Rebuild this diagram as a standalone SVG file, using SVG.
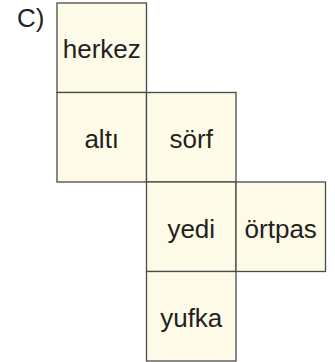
<svg xmlns="http://www.w3.org/2000/svg" width="335" height="362" viewBox="0 0 335 362">
<style>
.cell{fill:#fefae8;stroke:#4a4a4a;stroke-width:1.3}
.t{font-family:"Liberation Sans",Arial,sans-serif;font-size:26px;fill:#231f20;text-anchor:middle}
</style>
<rect width="335" height="362" fill="#ffffff"/>
<text x="17" y="27" class="t" style="text-anchor:start">C)</text>
<g id="herkez"><rect class="cell" x="57" y="3" width="89.5" height="89.5"/><text class="t" x="101.75" y="58.3">herkez</text></g>
<g id="alti"><rect class="cell" x="57" y="92.5" width="89.5" height="89.5"/><text class="t" x="101.75" y="148">altı</text></g>
<g id="sorf"><rect class="cell" x="146.5" y="92.5" width="89.5" height="89.5"/><text class="t" x="191.25" y="148">sörf</text></g>
<g id="yedi"><rect class="cell" x="146.5" y="182" width="89.5" height="89.5"/><text class="t" x="191.25" y="237.5">yedi</text></g>
<g id="ortpas"><rect class="cell" x="236" y="182" width="89.5" height="89.5"/><text class="t" x="280.75" y="237.5">örtpas</text></g>
<g id="yufka"><rect class="cell" x="146.5" y="271.5" width="89.5" height="89.5"/><text class="t" x="191.25" y="327">yufka</text></g>
<g id="connectors"></g>
</svg>
